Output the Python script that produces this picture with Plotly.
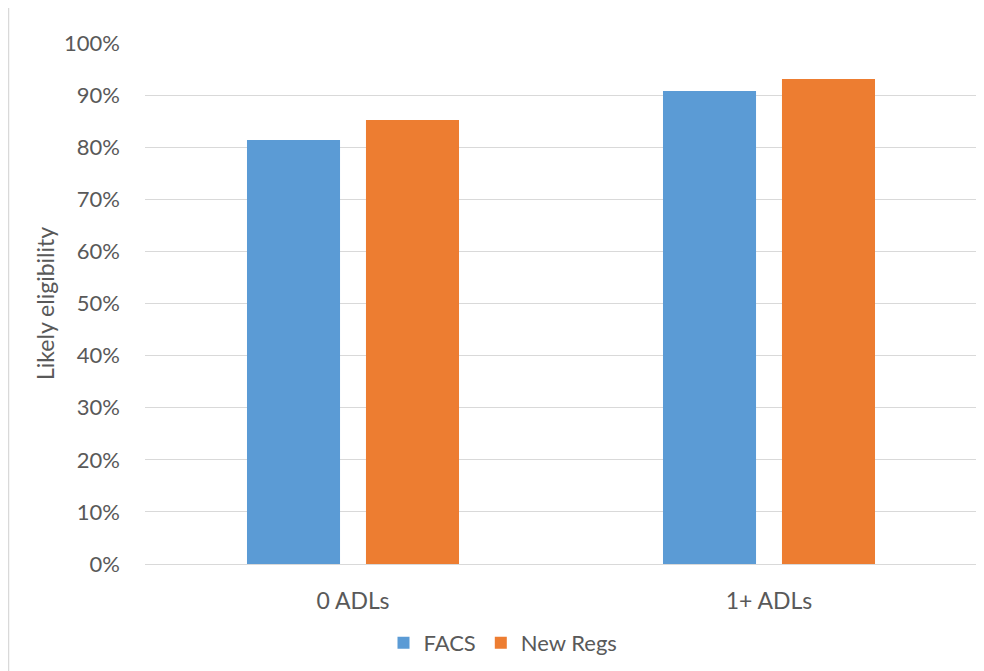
import plotly.graph_objects as go

categories = ["0 ADLs", "1+ ADLs"]
facs = [0.814, 0.908]
new_regs = [0.852, 0.931]
series_names = ["FACS", "New Regs"]
y_title = "Likely eligibility"

# page is rendered with an 8px body margin; size the figure to fit
W, H = 976, 663
L, R, T, B = 137, 7, 35, 107
pw, ph = W - L - R, H - T - B
OFF = 8  # page offset

def px_x(x):  # x in page pixels
    return (x - OFF - L) / pw

def px_y(y):  # y in page pixels
    return (H - B - (y - OFF)) / ph

font_family = "Lato, 'Open Sans', sans-serif"
gray = "#595959"

fig = go.Figure()
fig.add_trace(go.Bar(name=series_names[0], x=categories, y=facs,
                     marker=dict(color="#5B9BD5", line=dict(width=0))))
fig.add_trace(go.Bar(name=series_names[1], x=categories, y=new_regs,
                     marker=dict(color="#ED7D31", line=dict(width=0))))

fig.update_layout(
    width=W, height=H,
    margin=dict(l=L, r=R, t=T, b=B, autoexpand=False),
    paper_bgcolor="white", plot_bgcolor="white",
    barmode="group", bargap=0.428, bargroupgap=0.218,
    font=dict(family=font_family, color=gray, size=22),
    showlegend=True,
    legend=dict(orientation="h", x=px_x(503), xanchor="center",
                y=px_y(643), yanchor="middle",
                font=dict(size=22, color=gray), itemwidth=30,
                bgcolor="rgba(0,0,0,0)"),
    xaxis=dict(showgrid=False, showline=False, ticks="",
               tickfont=dict(size=23, color=gray), ticklabelstandoff=21),
    yaxis=dict(range=[0, 1], dtick=0.1, tickformat=".0%",
               showgrid=True, gridcolor="#d9d9d9", gridwidth=1,
               zeroline=True, zerolinecolor="#d9d9d9", zerolinewidth=1,
               showline=False, ticks="",
               tickfont=dict(size=22, color=gray), ticklabelstandoff=24),
    annotations=[dict(text=y_title, textangle=-90, x=px_x(45), y=px_y(304),
                      xref="paper", yref="paper", showarrow=False,
                      xanchor="center", yanchor="middle",
                      font=dict(size=23, color=gray))],
    shapes=[dict(type="line", xref="paper", yref="paper",
                 x0=px_x(8.5), x1=px_x(8.5), y0=px_y(0), y1=px_y(671),
                 line=dict(color="#d9d9d9", width=1.5))],
)

fig.write_html("out.html")
